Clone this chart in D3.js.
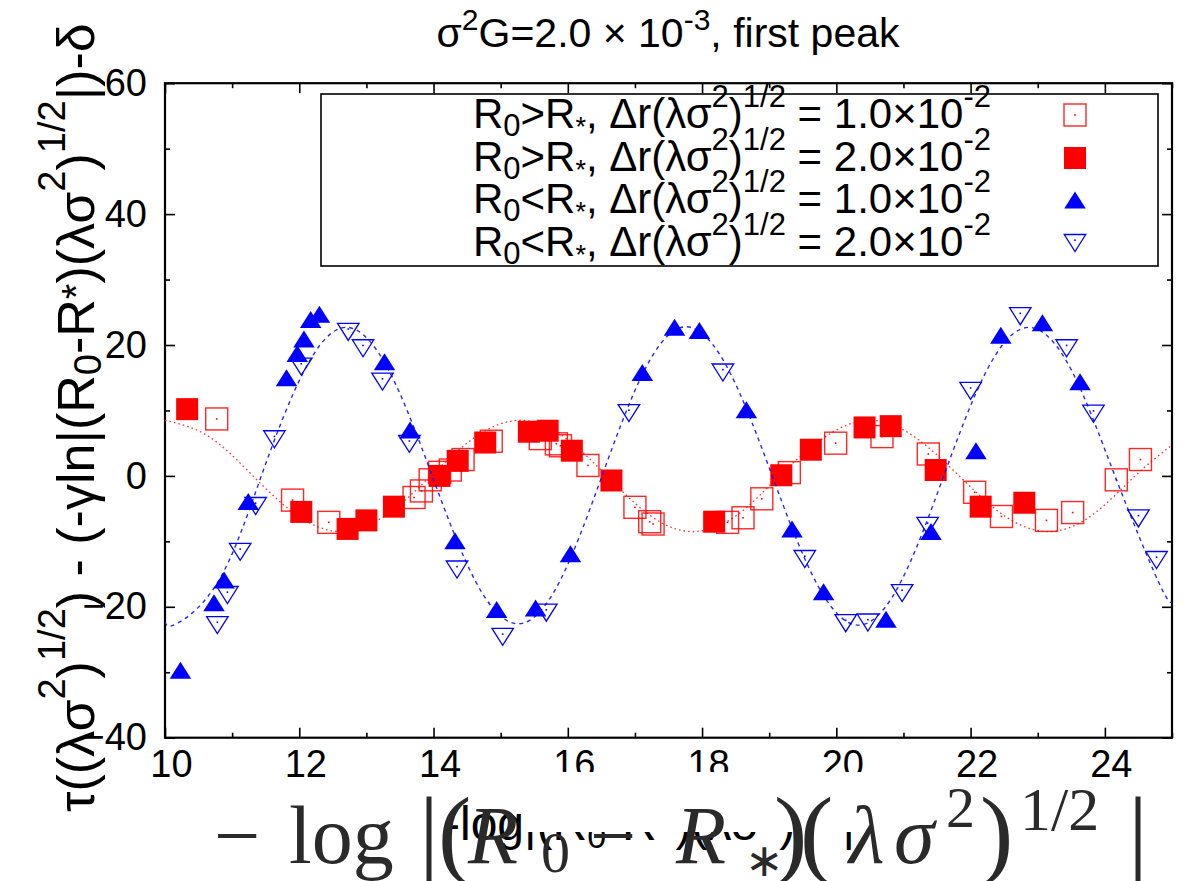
<!DOCTYPE html>
<html><head><meta charset="utf-8">
<script src="https://cdn.jsdelivr.net/npm/d3@7"></script>
<style>
body{margin:0;background:#fff}
svg{display:block}
text{white-space:pre}
</style>
</head><body>
<svg id="c" width="1187" height="881" font-family="Liberation Sans, Arial, Helvetica, sans-serif"></svg>
<script>
// ---------------- data ----------------
const xTicks = [10,12,14,16,18,20,22,24];
const xMinorTicks = [11,13,15,17,19,21,23,25];
const yTicks = [-40,-20,0,20,40,60];
const yMinorTicks = [-30,-10,10,30,50];

// R0>R*, dr = 1.0e-2 (open squares)
const openRed = [[10.77,8.7],[11.90,-3.7],[12.44,-7.1],[13.71,-3.3],[13.82,-2.3],[13.95,-0.6],
 [14.09,0.55],[14.25,0.9],[14.44,2.5],[14.86,5.3],[15.59,5.7],[15.83,4.9],[15.89,4.6],[16.30,1.6],
 [17.00,-4.8],[17.22,-7.0],[17.27,-7.35],[18.38,-7.1],[18.61,-6.4],[18.89,-3.5],[19.30,0.5],
 [19.99,5.0],[20.68,6.0],[21.37,3.35],[22.06,-2.5],[22.46,-6.2],[23.13,-6.8],[23.52,-5.6],
 [24.17,-0.6],[24.53,2.5]];
// R0>R*, dr = 2.0e-2 (filled squares)
const filledRed = [[10.33,10.2],[12.03,-5.5],[12.72,-8.1],[13.00,-6.8],[13.41,-4.7],[14.09,0.0],
 [14.36,2.3],[14.77,5.1],[15.42,6.75],[15.70,6.9],[16.06,3.85],[16.65,-0.7],[18.18,-7.0],
 [19.18,0.1],[19.62,4.0],[20.42,7.4],[20.81,7.6],[21.48,0.9],[22.15,-4.7],[22.80,-4.1]];
// R0<R*, dr = 1.0e-2 (filled triangles)
const filledBlue = [[10.23,-29.7],[10.73,-19.4],[10.88,-15.9],[11.24,-3.9],[11.81,15.0],[11.97,18.7],
 [12.07,20.9],[12.17,23.9],[12.30,24.7],[13.27,17.45],[13.65,7.0],[14.32,-9.9],[14.94,-20.4],
 [15.52,-20.2],[16.04,-11.9],[17.11,15.8],[17.59,22.7],[17.96,22.2],[18.66,10.1],[19.34,-8.1],
 [19.81,-17.7],[20.74,-21.9],[21.41,-8.5],[22.08,3.85],[22.45,21.5],[23.07,23.4],[23.63,14.4]];
// R0<R*, dr = 2.0e-2 (open inverted triangles)
const openBlue = [[10.78,-22.8],[10.93,-18.2],[11.12,-11.6],[11.35,-4.6],[11.63,5.6],[12.03,16.7],
 [12.73,22.0],[12.95,19.5],[13.24,14.4],[13.64,4.9],[14.35,-14.3],[15.03,-24.6],[15.68,-20.9],
 [16.91,9.6],[18.31,15.8],[19.53,-12.7],[20.14,-22.5],[20.47,-22.4],[20.98,-17.9],[21.36,-7.65],
 [22.00,13.0],[22.74,24.4],[23.43,19.5],[23.83,9.5],[24.50,-6.5],[24.77,-12.85]];

// fitted curves
const redFit = [[10.0,8.5],[10.655,6.0],[11.31,0],[11.965,-6.0],[12.62,-8.5],[13.29,-6.0],[13.96,0],
 [14.63,6.0],[15.30,8.5],[15.94,6.0],[16.58,0],[17.22,-6.0],[17.86,-8.5],[18.52,-6.0],[19.15,0],
 [19.84,6.0],[20.50,8.5],[21.16,6.0],[21.83,0],[22.49,-6.0],[23.15,-8.5],[23.81,-6.0],[24.45,0],[25.0,4.7]];
const blueFit = [[10.0,-22.3],[10.17,-22.6],[10.80,-16.0],[11.435,0],[12.07,16.0],[12.70,22.7],
 [13.34,16.0],[13.98,0],[14.62,-16.0],[15.26,-22.6],[15.885,-16.0],[16.51,0],[17.135,16.0],[17.76,22.8],
 [18.40,16.1],[19.045,0],[19.69,-16.1],[20.33,-22.8],[20.965,-16.1],[21.60,0],[22.235,16.0],[22.87,22.7],
 [23.51,16.0],[24.15,0],[24.79,-16.0],[25.0,-19.4]];

const legendValues = ["1.0","2.0","1.0","2.0"];
const legendRel = [">",">","<","<"];
const legendMarks = ["openSq","fillSq","fillTri","openTri"];

// ---------------- drawing ----------------
const svg = d3.select("#c");
const L=165, R=1172, T=83.2, B=737.7;
const x = d3.scaleLinear().domain([10,25]).range([L,R]);
const y = d3.scaleLinear().domain([-40,60]).range([B,T]);
const RED="#ff0000", BLUE="#0000ff";
const SANS="Liberation Sans, Arial, Helvetica, sans-serif";
const SERIF="Liberation Serif, Times New Roman, serif";

// parts: [text, kind, size?, shift?]  kind 0 normal, 1 sup, 2 sub, 3 custom shift
function rich(sel, parts, fs, ss, up, down){
  let cur=0;
  parts.forEach(([t,k,sz,sh])=>{
    const target = k===1?-up:(k===2?down:(k===3?sh:0));
    sel.append("tspan").attr("dy", target-cur).attr("font-size", k===3?sz:(k?ss:fs)).text(t);
    cur=target;
  });
}

// title
const title = svg.append("text").attr("x",668).attr("y",47).attr("text-anchor","middle").attr("fill","#000");
rich(title, [["σ",0],["2",1],["G=2.0 × 10",0],["-3",1],[", first peak",0]], 41, 30, 17, 0);

// axes
function styleAxis(g){ g.select(".domain").remove(); g.selectAll(".tick line").attr("stroke","#000").attr("stroke-width",1.6); }
const ax1 = svg.append("g").attr("transform",`translate(0,${B})`)
  .call(d3.axisBottom(x).tickValues(xTicks).tickSizeInner(-10).tickSizeOuter(0).tickPadding(12).tickFormat(d3.format("d")));
styleAxis(ax1);
ax1.selectAll("text").attr("font-size",38).attr("dx",6).attr("fill","#000").attr("font-family",SANS);
svg.append("g").attr("transform",`translate(0,${B})`)
  .call(d3.axisBottom(x).tickValues(xMinorTicks).tickSizeInner(-5).tickSizeOuter(0).tickFormat("")).call(styleAxis);
svg.append("g").attr("transform",`translate(0,${T})`)
  .call(d3.axisTop(x).tickValues(xTicks).tickSizeInner(-10).tickSizeOuter(0).tickFormat("")).call(styleAxis);
svg.append("g").attr("transform",`translate(0,${T})`)
  .call(d3.axisTop(x).tickValues(xMinorTicks).tickSizeInner(-5).tickSizeOuter(0).tickFormat("")).call(styleAxis);
const ay1 = svg.append("g").attr("transform",`translate(${L},0)`)
  .call(d3.axisLeft(y).tickValues(yTicks).tickSizeInner(-10).tickSizeOuter(0).tickPadding(18).tickFormat(d3.format("d")));
styleAxis(ay1);
ay1.selectAll("text").attr("font-size",38).attr("fill","#000").attr("font-family",SANS);
svg.append("g").attr("transform",`translate(${L},0)`)
  .call(d3.axisLeft(y).tickValues(yMinorTicks).tickSizeInner(-5).tickSizeOuter(0).tickFormat("")).call(styleAxis);
svg.append("g").attr("transform",`translate(${R},0)`)
  .call(d3.axisRight(y).tickValues(yTicks).tickSizeInner(-10).tickSizeOuter(0).tickFormat("")).call(styleAxis);
svg.append("g").attr("transform",`translate(${R},0)`)
  .call(d3.axisRight(y).tickValues(yMinorTicks).tickSizeInner(-5).tickSizeOuter(0).tickFormat("")).call(styleAxis);

svg.append("rect").attr("x",L).attr("y",T).attr("width",R-L).attr("height",B-T)
  .attr("fill","none").attr("stroke","#000").attr("stroke-width",2.2);

// y label
const yl = svg.append("text").attr("transform","translate(94,812) rotate(-90)").attr("fill","#000");
rich(yl, [["τ((λσ",0],["2",1],[")",0],["1/2",1],[") - (-γln|(R",0],["0",2],["-R",0],["*",3,40,-4],[")(λσ",0],["2",1],[")",0],["1/2",1],["|)-δ",0]], 52, 38, 29, 7);

// legend
svg.append("rect").attr("x",321).attr("y",94).attr("width",837).attr("height",172)
  .attr("fill","none").attr("stroke","#000").attr("stroke-width",1.6);
const rowBase = [128,171,213,256];

// markers
const SQ=22, TW=21.5, TH=17;
const triUp = `M0,${-TH/2}L${TW/2},${TH/2}L${-TW/2},${TH/2}Z`;
const triDn = `M${-TW/2},${-TH/2}L${TW/2},${-TH/2}L0,${TH/2}Z`;
function drawMark(g, type, cx, cy){
  if(type==="openSq"){
    g.append("rect").attr("x",cx-SQ/2).attr("y",cy-SQ/2).attr("width",SQ).attr("height",SQ)
      .attr("fill","none").attr("stroke",RED).attr("stroke-width",1.4).attr("stroke-opacity",0.85);
    g.append("rect").attr("x",cx-0.8).attr("y",cy-0.8).attr("width",1.6).attr("height",1.6).attr("fill",RED);
  } else if(type==="fillSq"){
    g.append("rect").attr("x",cx-SQ/2).attr("y",cy-SQ/2).attr("width",SQ).attr("height",SQ).attr("fill",RED);
  } else if(type==="fillTri"){
    g.append("path").attr("d",triUp).attr("transform",`translate(${cx},${cy})`).attr("fill",BLUE);
  } else {
    g.append("path").attr("d",triDn).attr("transform",`translate(${cx},${cy})`)
      .attr("fill","none").attr("stroke",BLUE).attr("stroke-width",1.3);
    g.append("rect").attr("x",cx-0.8).attr("y",cy-TH/2+TH/3-0.8).attr("width",1.6).attr("height",1.6).attr("fill",BLUE);
  }
}

legendValues.forEach((v,i)=>{
  const t = svg.append("text").attr("x",991).attr("y",rowBase[i]).attr("text-anchor","end").attr("fill","#000");
  rich(t, [["R",0],["0",2],[legendRel[i]+"R",0],["*",3,27,8],[", Δr(λσ",0],["2",1],[")",0],["1/2",1],[" = "+v+"×10",0],["-2",1]], 42, 31, 21, 8);
  drawMark(svg, legendMarks[i], 1075, rowBase[i]-13);
});

// data
const gd = svg.append("g");
const series = [[openRed,"openSq"],[filledRed,"fillSq"],[filledBlue,"fillTri"],[openBlue,"openTri"]];
series.forEach(([arr,type])=>{ arr.forEach(d=>drawMark(gd,type,x(d[0]),y(d[1]))); });

// fits
svg.append("clipPath").attr("id","pc").append("rect").attr("x",L).attr("y",T).attr("width",R-L).attr("height",B-T);
const line = d3.line().x(d=>x(d[0])).y(d=>y(d[1])).curve(d3.curveNatural);
svg.append("path").attr("d",line(redFit)).attr("clip-path","url(#pc)").attr("fill","none")
  .attr("stroke",RED).attr("stroke-width",1.3).attr("stroke-dasharray","1.6,3").attr("stroke-opacity",0.8);
svg.append("path").attr("d",line(blueFit)).attr("clip-path","url(#pc)").attr("fill","none")
  .attr("stroke",BLUE).attr("stroke-width",1.4).attr("stroke-dasharray","4,4").attr("stroke-opacity",0.85);

// x label (plain) partly hidden by a typeset overlay
const xl = svg.append("text").attr("x",444).attr("y",840).attr("fill","#000");
rich(xl, [["-log|(R",0],["0",2],["-R*)(λσ",0],["2",1],[")",0],["1/2",1],["|",0]], 48, 34, 20, 8);
svg.append("rect").attr("x",525).attr("y",772).attr("width",375).attr("height",60).attr("fill","#fff");

const tex = svg.append("g").attr("fill","#2a2a2a").attr("font-family",SERIF);
const texParts = [
  ["−",214,863,82,false],["log",289,863,82,false],["|",419,866,100,false],["(",438,866,100,false],
  ["R",468,863,82,true],["0",541,872,58,false],["−",590,863,82,false],["R",676,863,82,true],
  ["∗",745,876,46,false],[")",774,866,100,false],["(",800,866,100,false],["λ",849,863,82,true],
  ["σ",894,863,82,true],["2",946,827,58,false],[")",980,866,100,false],["1/2",1020,830,62,false],
  ["|",1128,866,100,false]];
texParts.forEach(([t,px,py,fs,it])=>{
  tex.append("text").attr("x",px).attr("y",py).attr("font-size",fs)
    .attr("font-family",SERIF).attr("font-style",it?"italic":"normal").text(t);
});
</script>
</body></html>
